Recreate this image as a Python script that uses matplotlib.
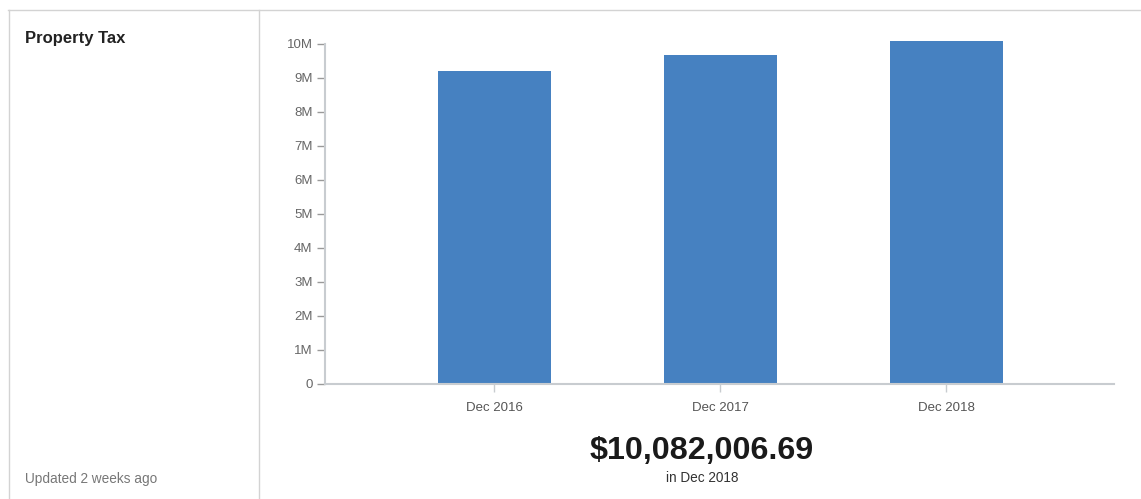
import matplotlib.pyplot as plt
from matplotlib.lines import Line2D

# data
categories = ['Dec 2016', 'Dec 2017', 'Dec 2018']
values = [9.22e6, 9.68e6, 10082006.69]
ytick_vals = [0, 1e6, 2e6, 3e6, 4e6, 5e6, 6e6, 7e6, 8e6, 9e6, 10e6]
ytick_labels = ['0', '1M', '2M', '3M', '4M', '5M', '6M', '7M', '8M', '9M', '10M']
title = 'Property Tax'
big_value = '$10,082,006.69'
big_caption = 'in Dec 2018'
updated = 'Updated 2 weeks ago'

plt.rcParams['font.family'] = ['Liberation Sans', 'DejaVu Sans']

W, H = 1141, 499
fig = plt.figure(figsize=(W / 100, H / 100), dpi=100)
fig.patch.set_facecolor('white')

def fx(px):
    return px / W

def fy(py):
    return 1 - py / H

# card borders
border = '#d3d3d3'
fig.add_artist(Line2D([fx(8), 1], [fy(9.5), fy(9.5)], color=border, lw=1))
fig.add_artist(Line2D([fx(8.5), fx(8.5)], [fy(9.5), 0], color=border, lw=1))
fig.add_artist(Line2D([fx(258.5), fx(258.5)], [fy(9.5), 0], color=border, lw=1))

# left panel text
fig.text(fx(25), fy(38), title, fontsize=12, fontweight='bold', color='#222222', va='center', ha='left')
fig.text(fx(25), fy(479), updated, fontsize=9.8, color='#777777', va='center', ha='left')

# chart
ax = fig.add_axes([fx(325), fy(384), fx(1114) - fx(325), fy(44) - fy(384)])
x = list(range(len(categories)))
ax.bar(x, values, width=0.5, color='#4681c1', clip_on=False, zorder=2)
ax.set_xlim(-0.748, 2.743)
ax.set_ylim(0, 10e6)

ax.set_yticks(ytick_vals)
ax.set_yticklabels(ytick_labels)
ax.set_xticks(x)
ax.set_xticklabels(categories)

for s in ['top', 'right']:
    ax.spines[s].set_visible(False)
for s in ['left', 'bottom']:
    ax.spines[s].set_color('#c8ccd0')
    ax.spines[s].set_linewidth(1.5)
ax.tick_params(axis='y', length=6, width=1, color='#999999', labelcolor='#666666', labelsize=9.5, pad=3)
ax.tick_params(axis='x', length=6, width=1, color='#c8ccd0', labelcolor='#555555', labelsize=9.5, pad=7)

# headline value
fig.text(fx(702), fy(451), big_value, fontsize=23.2, fontweight='bold', color='#1a1a1a', ha='center', va='center')
fig.text(fx(702), fy(478), big_caption, fontsize=9.8, color='#333333', ha='center', va='center')

fig.savefig('out.png', dpi=100)
